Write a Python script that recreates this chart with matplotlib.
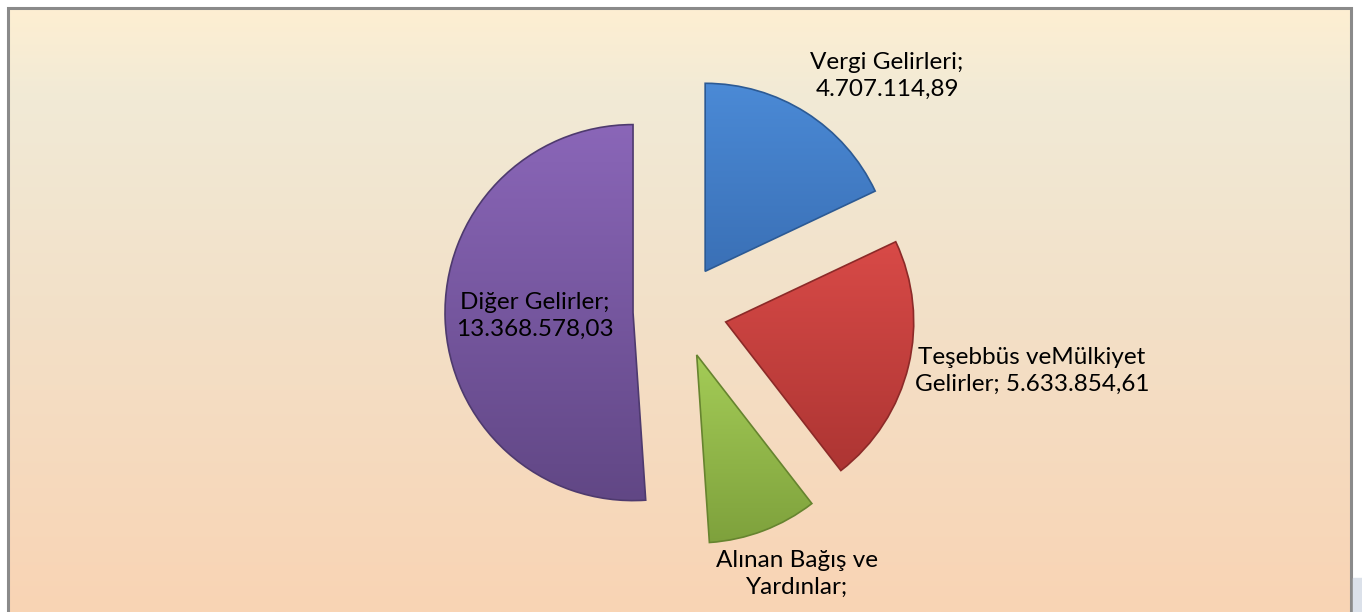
import numpy as np
import matplotlib.pyplot as plt
from matplotlib.colors import LinearSegmentedColormap
from matplotlib.patches import Rectangle

# data (TL) - the 3rd value is cut off in the source picture
names = ['Vergi Gelirleri', 'Teşebbüs veMülkiyet\nGelirler', 'Alınan Bağış ve\nYardınlar', 'Diğer Gelirler']
values = [4707114.89, 5633854.61, 2465000.00, 13368578.03]

# (top, bottom) colours of each slice gradient
slice_top = ['#4b8ad6', '#d84a47', '#a4cc57', '#8a66b8']
slice_bot = ['#3a70b6', '#ad3533', '#7ea13c', '#614785']
slice_edge = ['#2c5a94', '#8c2a28', '#66842f', '#4e3a6e']

# label centres in pixels (x, y from top)
label_pos = [(887, 76), (1032, 371), (797, 574), (535, 316)]

W, H = 1362, 612


def tr_number(v):
    # 4707114.89 -> 4.707.114,89
    s = '{:,.2f}'.format(v)
    return s.replace(',', '_').replace('.', ',').replace('_', '.')


fig = plt.figure(figsize=(W / 100, H / 100), dpi=100)
fig.patch.set_facecolor('white')
ax = fig.add_axes([0, 0, 1, 1])
ax.set_axis_off()

# chart area background (vertical gradient), top border at y=8 px
bg = LinearSegmentedColormap.from_list('bg', [(0, '#feefd2'), (0.15, '#f1ead6'),
                                              (0.55, '#f3dfc6'), (1, '#f9d4b4')])
grad = np.linspace(0, 1, 256).reshape(-1, 1)
ax.imshow(grad, cmap=bg, extent=[8, 1351, 0, H - 8], aspect='auto', zorder=0,
          origin='upper')
ax.plot([8, 8, 1351, 1351], [0, H - 8, H - 8, 0], color='#8a8a8a', lw=2.2,
        zorder=1, solid_joinstyle='miter')
ax.add_patch(Rectangle((1353, 0), 9, 34, color='#dbe1ea', zorder=1))

wedges, _ = ax.pie(values, startangle=90, counterclock=False, radius=188,
                   center=(680, H - 311), explode=[47] * 4,
                   colors=slice_top,
                   wedgeprops=dict(linewidth=1.2, zorder=2))

for i, w in enumerate(wedges):
    w.set_edgecolor(slice_edge[i])
    bb = w.get_path().get_extents(w.get_transform() - ax.transData)
    cm = LinearSegmentedColormap.from_list('s%d' % i, [slice_top[i], slice_bot[i]])
    im = ax.imshow(grad, cmap=cm, extent=[bb.x0, bb.x1, bb.y0, bb.y1],
                   aspect='auto', origin='upper', zorder=2.5)
    im.set_clip_path(w)
    w.set_facecolor('none')
    w.set_zorder(3)

for i in range(len(values)):
    if i == 1:
        txt = names[i] + '; ' + tr_number(values[i])
    elif i == 2:
        # value line falls below the picture edge in the original
        txt = names[i] + ';'
    else:
        txt = names[i] + ';\n' + tr_number(values[i])
    x, y = label_pos[i]
    ax.text(x, H - y, txt, ha='center', va='center', fontsize=17.5,
            family=['Lato', 'DejaVu Sans'], color='black', linespacing=1.38,
            zorder=5)

ax.set_xlim(0, W)
ax.set_ylim(0, H)

fig.savefig('out.png', dpi=100)
